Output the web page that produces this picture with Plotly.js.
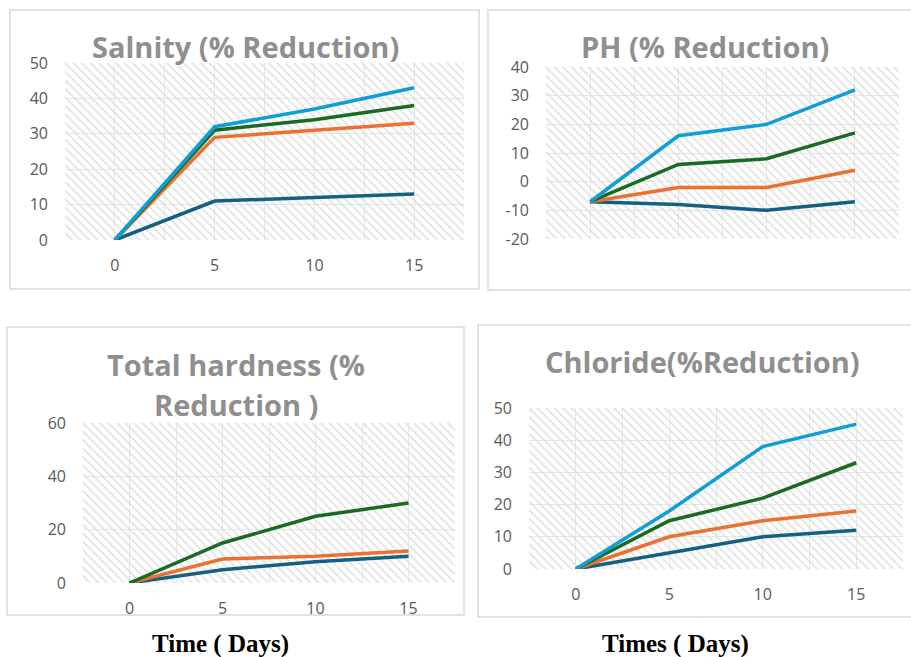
<!DOCTYPE html>
<html>
<head>
<meta charset="utf-8">
<script src="https://cdn.plot.ly/plotly-3.0.1.min.js"></script>
<style>html,body{margin:0;padding:0;background:#fff;}#chart{width:911px;height:657px;}</style>
</head>
<body>
<div id="chart"></div>
<script>
// ---- data ----
const days = [0, 5, 10, 15];
const tickDays = [0, 5, 10, 15];

const salinityS1 = [0, 11, 12, 13];
const salinityS2 = [0, 29, 31, 33];
const salinityS3 = [0, 31, 34, 38];
const salinityS4 = [0, 32, 37, 43];

const phS1 = [-7, -8, -10, -7];
const phS2 = [-7, -2, -2, 4];
const phS3 = [-7, 6, 8, 17];
const phS4 = [-7, 16, 20, 32];
const phTickVals = [-20, -10, 0, 10, 20, 30, 40];
const phTickText = ["-20", "-10", "0", "10", "20", "30", "40"];

const hardnessS1 = [0, 5, 8, 10];
const hardnessS2 = [0, 9, 10, 12];
const hardnessS3 = [0, 15, 25, 30];

const chlorideS1 = [0, 5, 10, 12];
const chlorideS2 = [0, 10, 15, 18];
const chlorideS3 = [0, 15, 22, 33];
const chlorideS4 = [0, 18, 38, 45];

const titles = ["Salnity (% Reduction)", "PH (% Reduction)", "Total hardness (%", "Reduction )", "Chloride(%Reduction)"];
const xLabels = ["Time ( Days)", "Times ( Days)"];

// ---- styling ----
const W = 911, H = 657;
const colors = ["#156082", "#E97132", "#196B24", "#0F9ED5"];
const xRange = [-2.5, 17.5];
const panels = [
  {ax: "", series: [salinityS1, salinityS2, salinityS3, salinityS4], yr: [0, 50], dt: 10, px: [65, 464], py: [63, 240], xt: true},
  {ax: "2", series: [phS1, phS2, phS3, phS4], yr: [-20, 40], dt: 10, px: [546, 899], py: [67, 239], xt: false, tv: phTickVals, tt: phTickText},
  {ax: "3", series: [hardnessS1, hardnessS2, hardnessS3], yr: [0, 60], dt: 20, px: [83, 455], py: [423, 583], xt: true},
  {ax: "4", series: [chlorideS1, chlorideS2, chlorideS3, chlorideS4], yr: [0, 50], dt: 10, px: [529, 903], py: [408, 569], xt: true}
];

const traces = [];
const layout = {
  width: W, height: H,
  margin: {l: 0, r: 0, t: 0, b: 0},
  paper_bgcolor: "#ffffff",
  plot_bgcolor: "#ffffff",
  showlegend: false,
  font: {family: "Open Sans, sans-serif", color: "#595959", size: 16},
  shapes: [], annotations: []
};

panels.forEach(p => {
  const xa = "x" + p.ax, ya = "y" + p.ax;
  // hatched plot background
  traces.push({
    x: [xRange[0], xRange[1], xRange[1], xRange[0], xRange[0]],
    y: [p.yr[0], p.yr[0], p.yr[1], p.yr[1], p.yr[0]],
    xaxis: xa, yaxis: ya, mode: "lines", fill: "toself",
    line: {width: 0, color: "rgba(0,0,0,0)"},
    fillcolor: "rgba(0,0,0,0)",
    fillpattern: {shape: "\\", fgcolor: "#dedede", bgcolor: "rgba(0,0,0,0)", size: 6, solidity: 0.25},
    hoverinfo: "skip"
  });
  p.series.forEach((s, i) => {
    traces.push({x: days, y: s, xaxis: xa, yaxis: ya, mode: "lines",
      line: {color: colors[i], width: 3.5}, hoverinfo: "x+y"});
  });
  const ykey = "yaxis" + p.ax, xkey = "xaxis" + p.ax;
  layout[xkey] = {
    domain: [p.px[0] / W, p.px[1] / W], anchor: ya, range: xRange,
    tickvals: tickDays, showticklabels: p.xt, ticks: "", ticklabelstandoff: 14,
    showgrid: true, gridcolor: "#e6e6e6", gridwidth: 1,
    minor: {tickvals: [2.5, 7.5, 12.5], showgrid: true, gridcolor: "#e6e6e6", gridwidth: 1},
    zeroline: false, showline: false, fixedrange: true,
    tickfont: {size: 16, color: "#595959"}
  };
  const ya_obj = {
    domain: [1 - p.py[1] / H, 1 - p.py[0] / H], anchor: xa, range: p.yr,
    ticks: "", ticklabelstandoff: 16,
    showgrid: true, gridcolor: "#e6e6e6", gridwidth: 1,
    zeroline: false, showline: false, fixedrange: true,
    tickfont: {size: 16, color: "#595959"}
  };
  if (p.tv) { ya_obj.tickvals = p.tv; ya_obj.ticktext = p.tt; }
  else { ya_obj.dtick = p.dt; ya_obj.tick0 = 0; }
  layout[ykey] = ya_obj;
});

// panel borders
[[10, 479, 10, 289], [488, 915, 10, 290], [7, 464, 327, 615], [478, 915, 325, 617]].forEach(b => {
  layout.shapes.push({type: "rect", xref: "paper", yref: "paper",
    x0: b[0] / W, x1: b[1] / W, y0: 1 - b[3] / H, y1: 1 - b[2] / H,
    line: {color: "#d9d9d9", width: 1.5}, fillcolor: "rgba(0,0,0,0)", layer: "below"});
});

const titlePos = [[245, 47], [705, 46], [236, 364], [236, 404], [702, 361]];
titles.forEach((t, i) => {
  layout.annotations.push({text: "<b>" + t + "</b>", xref: "paper", yref: "paper",
    x: titlePos[i][0] / W, y: 1 - titlePos[i][1] / H, xanchor: "center", yanchor: "middle",
    showarrow: false, font: {family: "Open Sans, sans-serif", size: 29, color: "#8f8f8f"}});
});
const xlPos = [[220, 644], [675, 644]];
xLabels.forEach((t, i) => {
  layout.annotations.push({text: "<b>" + t + "</b>", xref: "paper", yref: "paper",
    x: xlPos[i][0] / W, y: 1 - xlPos[i][1] / H, xanchor: "center", yanchor: "middle",
    showarrow: false, font: {family: "Liberation Serif, Times New Roman, serif", size: 25, color: "#000000"}});
});

Plotly.newPlot("chart", traces, layout, {displayModeBar: false, staticPlot: true});
</script>
</body>
</html>
